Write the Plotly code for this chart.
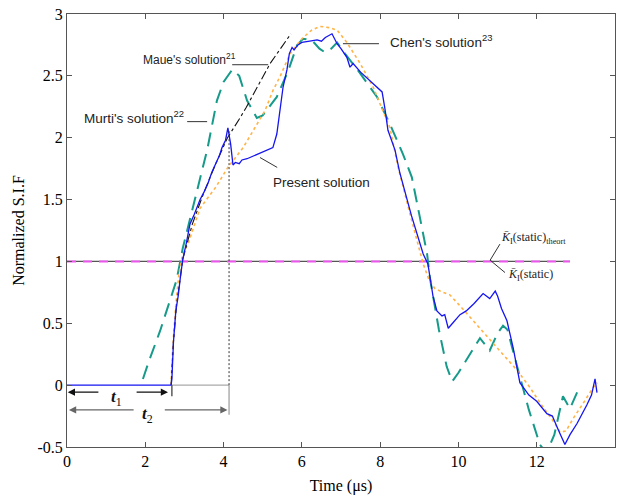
import plotly.graph_objects as go

# ---------------- data ----------------
present_t = [0, 2.66, 2.68, 2.72, 2.78, 2.84, 2.9, 2.96, 3.05, 3.14, 3.25, 3.4, 3.5, 3.6, 3.7, 3.8,
             3.9, 3.96, 4.05, 4.11, 4.14, 4.18, 4.24, 4.3, 4.4, 4.47, 4.6, 4.75, 4.9, 5.0, 5.1, 5.2,
             5.26, 5.36, 5.45, 5.52, 5.62, 5.68, 5.75, 5.8, 5.9, 6.0, 6.2, 6.39, 6.5, 6.6, 6.77, 6.9,
             7.0, 7.15, 7.23, 7.31, 7.5, 7.74, 7.9, 8.05, 8.12, 8.2, 8.38, 8.5, 8.8, 9.1, 9.22, 9.35,
             9.45, 9.52, 9.58, 9.65, 9.74, 9.85, 10.04, 10.2, 10.4, 10.63, 10.72, 10.8, 10.94, 11.0,
             11.1, 11.24, 11.4, 11.57, 11.8, 12.0, 12.26, 12.4, 12.55, 12.72, 12.85, 13.03, 13.28,
             13.4, 13.49, 13.54]
present_v = [0, 0, 0.05, 0.35, 0.6, 0.72, 0.88, 1.02, 1.15, 1.3, 1.38, 1.5, 1.56, 1.63, 1.72, 1.79,
             1.86, 1.92, 1.98, 2.08, 2.02, 1.95, 1.78, 1.8, 1.79, 1.82, 1.83, 1.85, 1.87, 1.88, 1.9, 1.91,
             1.92, 2.03, 2.25, 2.41, 2.55, 2.68, 2.73, 2.71, 2.75, 2.77, 2.78, 2.79, 2.78, 2.81, 2.84, 2.76,
             2.72, 2.65, 2.57, 2.6, 2.53, 2.46, 2.42, 2.37, 2.24, 2.06, 1.9, 1.72, 1.37, 1.06, 0.98, 0.72,
             0.6, 0.58, 0.56, 0.57, 0.46, 0.5, 0.57, 0.6, 0.66, 0.74, 0.72, 0.7, 0.76, 0.72,
             0.62, 0.52, 0.3, 0.02, -0.08, -0.13, -0.23, -0.25, -0.36, -0.48, -0.4, -0.31, -0.16,
             -0.08, 0.05, -0.06]

murti_t = [1.94, 2.1, 2.38, 2.6, 2.8, 2.96, 3.22, 3.4, 3.58, 3.83, 4.0, 4.22, 4.4, 4.6, 4.85, 5.0,
           5.36, 5.65, 5.88, 6.03, 6.25, 6.45, 6.59, 6.75, 6.9, 7.1, 7.49, 7.92, 8.25, 8.58, 8.81,
           9.0, 9.2, 9.27, 9.5, 9.7, 9.84, 10.0, 10.3, 10.55, 10.8, 11.0, 11.14, 11.25, 11.5, 11.8,
           12.08, 12.25, 12.45, 12.67, 12.85, 13.1]
murti_v = [0.05, 0.2, 0.44, 0.65, 0.85, 1.11, 1.44, 1.68, 1.9, 2.3, 2.45, 2.55, 2.5, 2.3, 2.16, 2.18,
           2.33, 2.54, 2.75, 2.8, 2.79, 2.72, 2.69, 2.72, 2.77, 2.68, 2.52, 2.33, 2.11, 1.87, 1.68,
           1.38, 1.06, 0.87, 0.45, 0.15, 0.03, 0.1, 0.25, 0.38, 0.28, 0.42, 0.48, 0.45, 0.15, -0.2,
           -0.48, -0.55, -0.4, -0.09, -0.19, -0.01]

chen_t = [2.66, 2.7, 2.78, 2.86, 2.95, 3.1, 3.4, 3.8, 4.11, 4.5, 5.06, 5.26, 5.45, 5.7, 6.0, 6.25,
          6.46, 6.7, 6.9, 7.15, 7.49, 7.82, 8.25, 8.46, 8.75, 9.1, 9.25, 9.4, 9.6, 9.78, 10.1, 10.55,
          10.9, 11.24, 11.5, 11.83, 12.1, 12.42, 12.6, 12.75, 12.93, 13.2, 13.44, 13.55]
chen_v = [0, 0.3, 0.65, 0.9, 1.05, 1.15, 1.43, 1.6, 1.76, 1.92, 2.22, 2.38, 2.5, 2.68, 2.8, 2.87,
          2.9, 2.89, 2.87, 2.77, 2.6, 2.41, 2.08, 1.76, 1.4, 0.98, 0.85, 0.78, 0.75, 0.73, 0.62, 0.46,
          0.34, 0.22, 0.12, -0.02, -0.15, -0.29, -0.38, -0.37, -0.27, -0.14, -0.02, 0.02]

maue_t = [2.66, 2.72, 2.8, 2.9, 2.96, 3.2, 3.5, 3.8, 4.1, 4.42, 4.57, 5.19, 5.72]
maue_v = [0, 0.35, 0.65, 0.88, 1.02, 1.3, 1.56, 1.79, 2.0, 2.16, 2.24, 2.6, 2.84]

static_t = [0, 12.85]
static_v = [1.0, 1.0]

t1_end = 2.62
t2_end = 4.14
t2_peak = 2.06

x_ticks = [0, 2, 4, 6, 8, 10, 12, 14]
y_ticks = [-0.5, 0, 0.5, 1, 1.5, 2, 2.5, 3]
y_tick_text = ["-0.5", "0", "0.5", "1", "1.5", "2", "2.5", "3"]

# ---------------- figure ----------------
fig = go.Figure()

fig.add_trace(go.Scatter(x=static_t, y=static_v, mode="lines",
                         line=dict(color="#555555", width=1.2)))
fig.add_trace(go.Scatter(x=static_t, y=static_v, mode="lines",
                         line=dict(color="#ee55ee", width=2, dash="9px,7px")))
fig.add_trace(go.Scatter(x=murti_t, y=murti_v, mode="lines",
                         line=dict(color="#169a8a", width=2, dash="14px,8px")))
fig.add_trace(go.Scatter(x=chen_t, y=chen_v, mode="lines",
                         line=dict(color="#ffb347", width=1.6, dash="dot")))
fig.add_trace(go.Scatter(x=maue_t, y=maue_v, mode="lines",
                         line=dict(color="#111111", width=1.1, dash="dashdot")))
fig.add_trace(go.Scatter(x=present_t, y=present_v, mode="lines",
                         line=dict(color="#1515f0", width=1.3)))

shapes = []
# grey baseline between t1 and t2, and vertical markers
shapes.append(dict(type="line", xref="x", yref="y", x0=2.68, x1=t2_end, y0=0, y1=0,
                   line=dict(color="#aaaaaa", width=1.2)))
shapes.append(dict(type="line", xref="x", yref="y", x0=t2_end, x1=t2_end, y0=0, y1=-0.24,
                   line=dict(color="#999999", width=1.2)))
shapes.append(dict(type="line", xref="x", yref="y", x0=t2_end, x1=t2_end, y0=0, y1=t2_peak,
                   line=dict(color="#333333", width=1, dash="2px,2px")))
shapes.append(dict(type="line", xref="x", yref="y", x0=2.68, x1=2.68, y0=0, y1=-0.09,
                   line=dict(color="#333333", width=1.2)))
# leader lines
leaders = [
    (4.22, 2.59, 5.14, 2.59),
    (7.05, 2.76, 7.97, 2.76),
    (3.07, 2.13, 3.58, 2.13),
    (4.93, 1.84, 5.37, 1.76),
    (10.81, 1.01, 11.06, 1.14),
    (10.81, 1.01, 11.19, 0.91),
]
for x0, y0, x1, y1 in leaders:
    shapes.append(dict(type="line", xref="x", yref="y", x0=x0, y0=y0, x1=x1, y1=y1,
                       line=dict(color="#333333", width=1)))

ann = []
sans = dict(family="Liberation Sans, Arial", color="#222222")
ann.append(dict(x=1.9, y=2.64, text="Maue's solution<sup>21</sup>", showarrow=False,
                xanchor="left", yanchor="middle", font=dict(size=12, **sans)))
ann.append(dict(x=8.2, y=2.78, text="Chen's solution<sup>23</sup>", showarrow=False,
                xanchor="left", yanchor="middle", font=dict(size=13.5, **sans)))
ann.append(dict(x=0.38, y=2.17, text="Murti's solution<sup>22</sup>", showarrow=False,
                xanchor="left", yanchor="middle", font=dict(size=13.5, **sans)))
ann.append(dict(x=5.22, y=1.64, text="Present solution", showarrow=False,
                xanchor="left", yanchor="middle", font=dict(size=13.5, **sans)))
serif = dict(family="Liberation Serif, Times New Roman", color="#222222")
ann.append(dict(x=11.04, y=1.19, text="<i>K̄</i><sub>I</sub>(static)<sub>theort</sub>",
                showarrow=False, xanchor="left", yanchor="middle", font=dict(size=12, **serif)))
ann.append(dict(x=11.22, y=0.89, text="<i>K̄</i><sub>I</sub>(static)",
                showarrow=False, xanchor="left", yanchor="middle", font=dict(size=12, **serif)))

# t1 / t2 dimension arrows
arrows = [
    (0.02, -0.057, 0.84, -0.057, "#111111"),
    (2.58, -0.057, 1.74, -0.057, "#111111"),
    (0.05, -0.2, 1.74, -0.2, "#666666"),
    (4.1, -0.2, 2.46, -0.2, "#666666"),
]
for hx, hy, tx, ty, c in arrows:
    ann.append(dict(x=hx, y=hy, ax=tx, ay=ty, xref="x", yref="y", axref="x", ayref="y",
                    text="", showarrow=True, arrowhead=2, arrowsize=1.2, arrowwidth=1.2,
                    arrowcolor=c))
ann.append(dict(x=1.27, y=-0.1, text="<b><i>t</i></b><sub>1</sub>", showarrow=False,
                font=dict(family="Liberation Serif", size=17, color="#111111")))
ann.append(dict(x=2.05, y=-0.245, text="<b><i>t</i></b><sub>2</sub>", showarrow=False,
                font=dict(family="Liberation Serif", size=17, color="#111111")))

fig.update_layout(
    width=619, height=500,
    margin=dict(l=67, r=4, t=14, b=53),
    paper_bgcolor="white", plot_bgcolor="white",
    showlegend=False, hovermode=False,
    shapes=shapes, annotations=ann,
    font=dict(family="Liberation Serif, Times New Roman", color="black"),
)
axis_common = dict(showline=True, linecolor="#555555", linewidth=1, mirror="ticks",
                   ticks="inside", ticklen=5, tickcolor="#555555", showgrid=False,
                   zeroline=False, tickfont=dict(family="Liberation Serif", size=16, color="black"))
fig.update_xaxes(range=[0, 14], tickvals=x_ticks, title=dict(text="Time (μs)", standoff=10,
                 font=dict(family="Liberation Serif", size=16)), **axis_common)
fig.update_yaxes(range=[-0.5, 3], tickvals=y_ticks, ticktext=y_tick_text,
                 title=dict(text="Normalized S.I.F", standoff=8,
                            font=dict(family="Liberation Serif", size=16)), **axis_common)

fig.write_html("out.html")
